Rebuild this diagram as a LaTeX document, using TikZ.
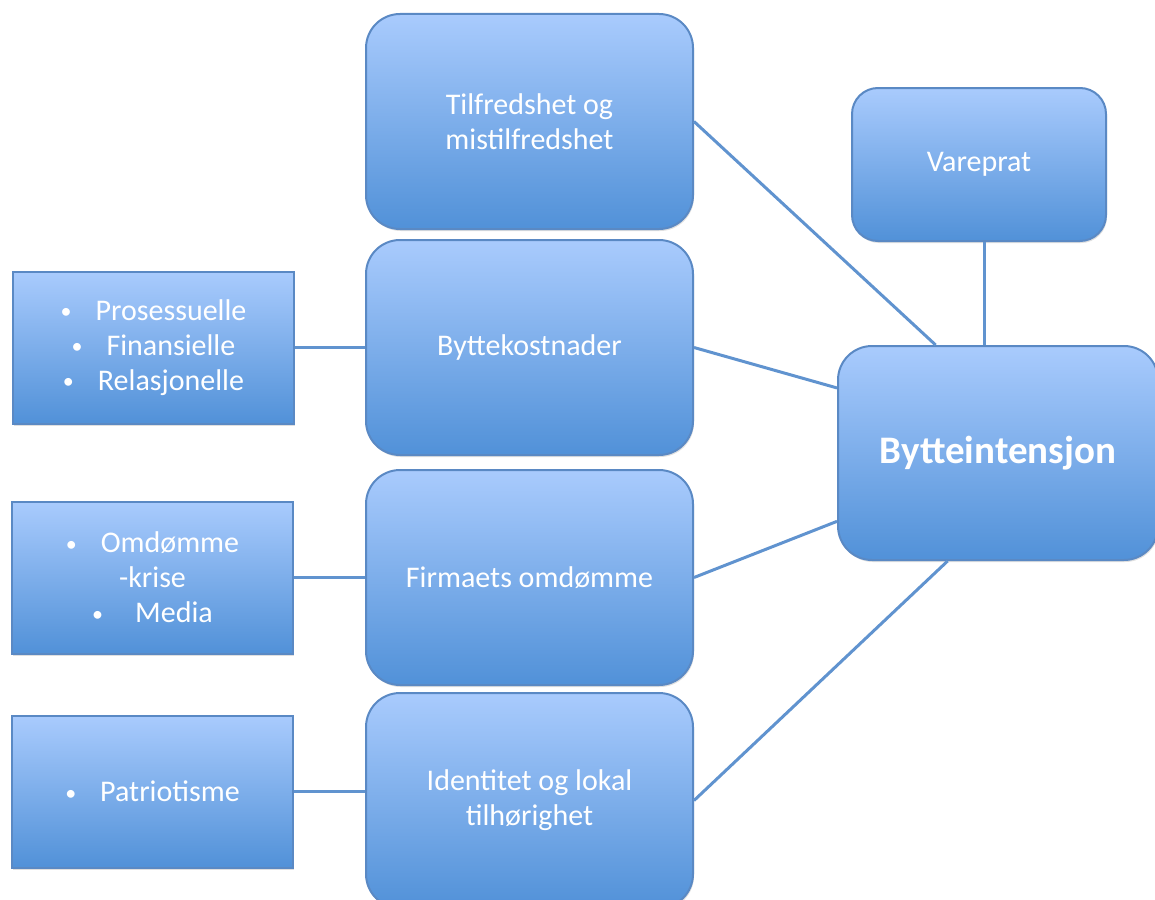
\documentclass[tikz,border=0pt]{standalone}
\usepackage{fontspec}
\setmainfont{Carlito}
\usetikzlibrary{positioning,shadows}
\definecolor{skytop}{HTML}{A9CBFD}
\definecolor{skybot}{HTML}{5191D8}
\definecolor{rim}{HTML}{5A89C4}
\definecolor{wire}{HTML}{6093CF}
\newcommand\bulit{\raisebox{1.5pt}{\fontsize{22}{22}\selectfont\textbullet}\hspace{24pt}}

\begin{document}
\begin{tikzpicture}[x=1pt,y=1pt, node distance=11pt,
   txt/.style={font=\fontsize{30}{35}\selectfont,text=white,align=center,inner sep=0pt},
   big/.style={txt,draw=rim,line width=2pt,top color=skytop,bottom color=skybot,rounded corners=34pt,minimum width=327pt,minimum height=215pt,drop shadow={shadow xshift=1pt,shadow yshift=-2pt,opacity=.25}},
   hub/.style={big,minimum width=320pt,minimum height=214pt,font=\fontsize{39}{44}\selectfont\bfseries},
   tag/.style={big,rounded corners=26pt,minimum width=254pt,minimum height=153pt},
   lst/.style={txt,draw=rim,line width=2pt,top color=skytop,bottom color=skybot,minimum width=281pt,minimum height=152pt,drop shadow={shadow xshift=1pt,shadow yshift=-2pt,opacity=.25}},
   wr/.style={draw=wire,line width=3pt}]
  \useasboundingbox (0,0) rectangle (1155,-899);
  % middle column
  \node[big] (tilf) at (529.5,-121.5) {Tilfredshet og\\mistilfredshet};
  \node[big,below=9pt of tilf] (bytte) {Byttekostnader};
  \node[big,below=13pt of bytte] (firma) {Firmaets omdømme};
  \node[big,below=6pt of firma] (ident) {Identitet og lokal\\tilhørighet};
  % right side
  \node[hub] (intens) at (998,-453) {Bytteintensjon};
  \node[tag,above=103pt of intens,xshift=-19pt] (vare) {Vareprat};
  % left lists
  \node[lst,left=70pt of bytte] (kost) {\bulit Prosessuelle\\\bulit Finansielle\\\bulit Relasjonelle};
  \node[lst,left=71pt of firma] (omd) {\bulit Omdømme\\-krise\\\bulit\hspace{8pt}Media};
  \node[lst,left=71pt of ident,yshift=9pt] (patr) {\bulit Patriotisme};
  % connectors
  \draw[wr] (tilf.east) -- (intens.120);
  \draw[wr] ([xshift=5pt]vare.south) -- ([xshift=5pt]vare.south |- intens.north);
  \draw[wr] (bytte.east) -- (intens.158);
  \draw[wr] (firma.east) -- (intens.203);
  \draw[wr] (ident.east) -- (intens.245);
  \draw[wr] (kost) -- (bytte);
  \draw[wr] (omd) -- (firma);
  \draw[wr] (patr.east) -- (patr.east -| ident.west);
\end{tikzpicture}
\end{document}
